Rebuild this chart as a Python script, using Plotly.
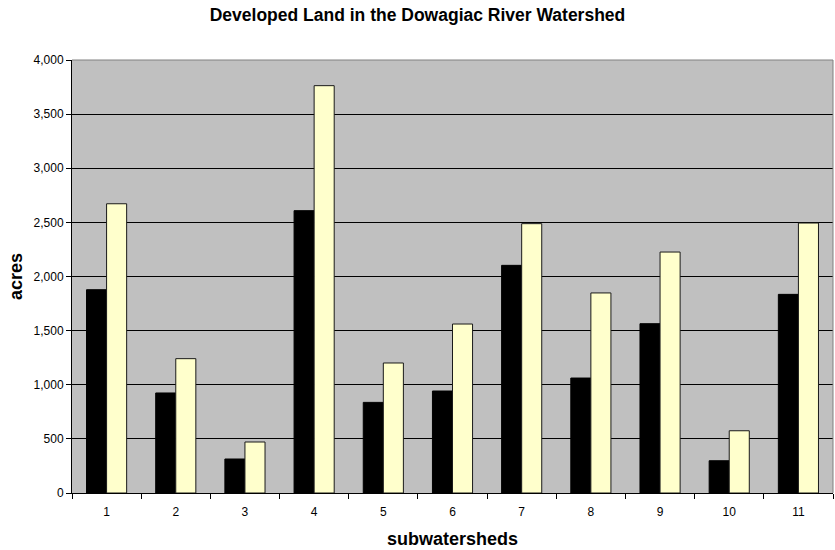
import plotly.graph_objects as go

# Subwatershed numbers and developed acreage for the two series
subwatersheds = ["1", "2", "3", "4", "5", "6", "7", "8", "9", "10", "11"]
developed_earlier = [1878, 924, 314, 2608, 837, 942, 2103, 1062, 1564, 298, 1835]
developed_later = [2672, 1241, 471, 3763, 1201, 1561, 2488, 1848, 2226, 575, 2494]

FONT = "Liberation Sans, Arial, sans-serif"

fig = go.Figure()
fig.add_trace(go.Bar(
    x=subwatersheds, y=developed_earlier, name="earlier",
    marker=dict(color="#000000", line=dict(color="#000000", width=1)),
))
fig.add_trace(go.Bar(
    x=subwatersheds, y=developed_later, name="later",
    marker=dict(color="#FFFFCC", line=dict(color="#1a1a1a", width=1)),
))

fig.update_layout(
    width=835, height=550,
    margin=dict(l=72, r=2, t=60, b=57),
    paper_bgcolor="white",
    plot_bgcolor="#C0C0C0",
    barmode="group",
    bargap=0.42,
    bargroupgap=0,
    showlegend=False,
    font=dict(family=FONT, size=12, color="black"),
    title=dict(
        text="<b>Developed Land in the Dowagiac River Watershed</b>",
        x=0.5, xref="container", xanchor="center",
        y=1 - 15 / 550, yref="container", yanchor="middle",
        font=dict(family=FONT, size=17.5, color="black"),
    ),
    xaxis=dict(
        type="category",
        showline=True, linecolor="black", linewidth=1,
        ticks="outside", ticklen=5, tickcolor="black",
        tickson="boundaries",
        ticklabelstandoff=8,
        showgrid=False,
        tickfont=dict(size=12),
        title=dict(text="<b>subwatersheds</b>", font=dict(size=18), standoff=13),
    ),
    yaxis=dict(
        range=[0, 4000],
        tickvals=[0, 500, 1000, 1500, 2000, 2500, 3000, 3500, 4000],
        tickformat=",d",
        showline=True, linecolor="black", linewidth=1,
        ticks="outside", ticklen=5, tickcolor="black",
        showgrid=True, gridcolor="black", gridwidth=1,
        zeroline=False,
        tickfont=dict(size=12),
        title=dict(text="<b>acres</b>", font=dict(size=18), standoff=6),
    ),
    shapes=[
        # Plot-area frame on the top and right edges
        dict(type="line", xref="paper", yref="paper", x0=0, x1=1, y0=1, y1=1,
             line=dict(color="#808080", width=1)),
        dict(type="line", xref="paper", yref="paper", x0=1, x1=1, y0=0, y1=1,
             line=dict(color="#808080", width=1)),
    ],
)

fig.write_html("out.html")
